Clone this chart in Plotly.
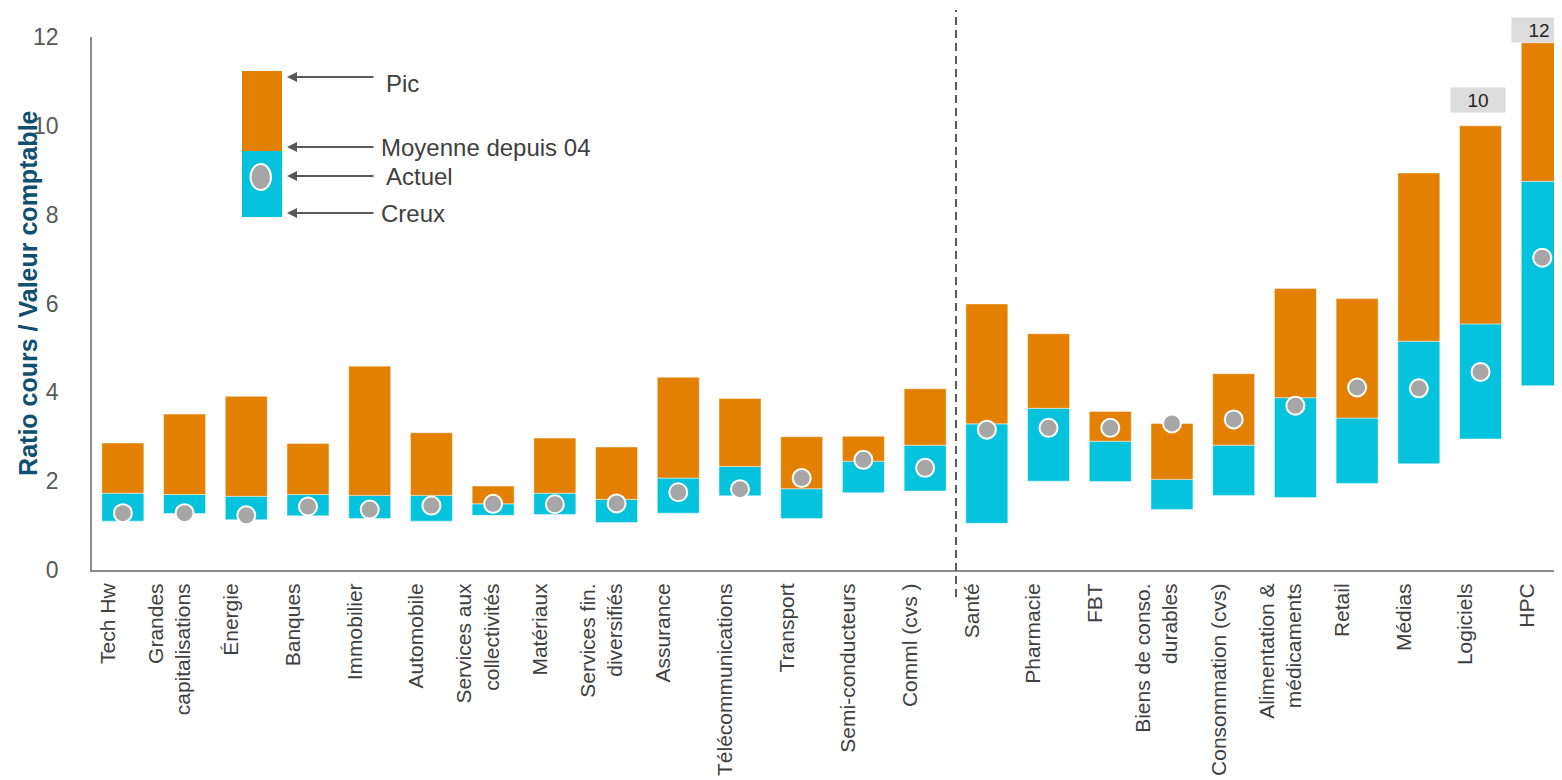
import plotly.graph_objects as go

# ---------------- data ----------------
categories = [
    "Tech Hw", "Grandes<br>capitalisations", "Énergie", "Banques", "Immobilier",
    "Automobile", "Services aux<br>collectivités", "Matériaux",
    "Services fin.<br>diversifiés", "Assurance", "Télécommunications", "Transport",
    "Semi-conducteurs", "Comml (cvs )", "Santé", "Pharmacie", "FBT",
    "Biens de conso.<br>durables", "Consommation (cvs)",
    "Alimentation &<br>médicaments", "Retail", "Médias", "Logiciels", "HPC",
]
pic = [2.86, 3.51, 3.91, 2.85, 4.59, 3.09, 1.89, 2.97, 2.77, 4.34, 3.86, 3.00,
       3.01, 4.08, 5.99, 5.32, 3.57, 3.30, 4.42, 6.34, 6.11, 8.94, 10.0, 11.87]
moyenne = [1.73, 1.70, 1.66, 1.70, 1.68, 1.68, 1.49, 1.73, 1.59, 2.07, 2.33, 1.83,
           2.45, 2.81, 3.29, 3.64, 2.90, 2.04, 2.81, 3.88, 3.42, 5.15, 5.54, 8.75]
creux = [1.10, 1.27, 1.13, 1.22, 1.16, 1.10, 1.23, 1.25, 1.07, 1.28, 1.67, 1.16,
         1.74, 1.78, 1.05, 2.00, 1.99, 1.36, 1.68, 1.63, 1.95, 2.39, 2.95, 4.15]
actuel = [1.28, 1.28, 1.23, 1.43, 1.36, 1.45, 1.49, 1.48, 1.50, 1.75, 1.82, 2.07,
          2.48, 2.30, 3.16, 3.20, 3.20, 3.30, 3.39, 3.70, 4.11, 4.09, 4.46, 7.03]
y_ticks = [0, 2, 4, 6, 8, 10, 12]
labelled_peaks = ["Logiciels", "HPC"]
legend_labels = ["Pic", "Moyenne depuis 04", "Actuel", "Creux"]
y_title = "Ratio cours / Valeur comptable"

# ---------------- styling ----------------
OFF = 8                       # page (body) margin of the html page
WIN_W, WIN_H = 1562, 780
W, H = WIN_W - OFF, WIN_H - OFF
# plot area in window pixels: x 92..1562, y 37..570
ML, MR, MT = 92 - OFF, 0, 37 - OFF
PW, PH = 1470, 533
MB = H - MT - PH
ORANGE = "#E38000"
CYAN = "#05C3DD"
GREY_DOT = "#A6A6A6"
TXT = "#404040"
FONT = "Liberation Sans, Arial, sans-serif"


def px(xw):
    """window x pixel -> paper x"""
    return (xw - 92) / PW


def py(yw):
    """window y pixel -> paper y"""
    return (570 - yw) / PH


idx = list(range(len(categories)))

fig = go.Figure()
fig.add_trace(go.Bar(
    x=idx, y=[m - c for m, c in zip(moyenne, creux)], base=creux, width=0.68,
    marker=dict(color=CYAN, line=dict(color="rgba(255,255,255,0.45)", width=1)),
    showlegend=False, hoverinfo="skip",
))
fig.add_trace(go.Bar(
    x=idx, y=[p - m for p, m in zip(pic, moyenne)], base=moyenne, width=0.68,
    marker=dict(color=ORANGE, line=dict(color="rgba(255,255,255,0.45)", width=1)),
    showlegend=False, hoverinfo="skip",
))
fig.add_trace(go.Scatter(
    x=idx, y=actuel, mode="markers",
    marker=dict(size=18, color=GREY_DOT, line=dict(color="white", width=2)),
    showlegend=False, hoverinfo="skip",
))

shapes = []
annotations = []

# separator
shapes.append(dict(type="line", xref="x", yref="paper", x0=13.5, x1=13.5,
                   y0=py(597), y1=py(10),
                   line=dict(color="#595959", width=2, dash="8px,5px")))

# legend key
shapes.append(dict(type="rect", xref="paper", yref="paper", x0=px(242), x1=px(282),
                   y0=py(151), y1=py(71), fillcolor=ORANGE, line=dict(width=0)))
shapes.append(dict(type="rect", xref="paper", yref="paper", x0=px(242), x1=px(282),
                   y0=py(217), y1=py(151), fillcolor=CYAN, line=dict(width=0)))
shapes.append(dict(type="circle", xref="paper", yref="paper", x0=px(250.5), x1=px(271),
                   y0=py(190), y1=py(164), fillcolor=GREY_DOT,
                   line=dict(color="white", width=2)))

arrow_y = [77, 147, 176, 213]
text_y = [83, 147, 176, 213]
text_x = [384, 379, 384, 379]
for lab, ay_, ty, tx in zip(legend_labels, arrow_y, text_y, text_x):
    annotations.append(dict(xref="paper", yref="paper", x=px(287), y=py(ay_), text="",
                            showarrow=True, ax=88, ay=0, arrowhead=2, arrowsize=1,
                            arrowwidth=2, arrowcolor="#595959"))
    annotations.append(dict(xref="paper", yref="paper", x=px(tx), y=py(ty), text=lab,
                            showarrow=False, xanchor="left", yanchor="middle",
                            font=dict(size=24, color=TXT, family=FONT)))

# peak value boxes
for name, yshift in zip(labelled_peaks, [13, 0]):
    i = categories.index(name)
    annotations.append(dict(x=i, y=pic[i], xref="x", yref="y", text=f"{round(pic[i])}",
                            showarrow=False, yanchor="bottom", yshift=yshift, xshift=-3,
                            width=54, height=24, bgcolor="#DCDCDC", borderpad=0,
                            font=dict(size=19, color="#222222", family=FONT)))

# y title
annotations.append(dict(xref="paper", yref="paper", x=px(28), y=0.518, text=f"<b>{y_title}</b>",
                        showarrow=False, textangle=-90, xanchor="center", yanchor="middle",
                        font=dict(size=25, color="#0F4F6F", family=FONT)))

fig.update_layout(
    width=W, height=H,
    margin=dict(l=ML, r=MR, t=MT, b=MB, autoexpand=False),
    paper_bgcolor="white", plot_bgcolor="white",
    barmode="overlay",
    font=dict(family=FONT, color=TXT),
    shapes=shapes, annotations=annotations,
    xaxis=dict(
        range=[-0.5, 23.32], tickmode="array", tickvals=idx, ticktext=categories,
        tickangle=-90, tickfont=dict(size=21, color=TXT, family=FONT),
        showline=True, linecolor="#8C8C8C", linewidth=2, showgrid=False,
        zeroline=False, ticks="", ticklabelshift=-15, ticklabelstandoff=3,
        automargin=False,
    ),
    yaxis=dict(
        range=[0, 12], tickmode="array", tickvals=y_ticks,
        tickfont=dict(size=23, color="#595959", family=FONT),
        showline=True, linecolor="#8C8C8C", linewidth=1.5, showgrid=False,
        zeroline=False, ticks="", ticklabelstandoff=27, automargin=False,
    ),
)

fig.write_html("out.html")
